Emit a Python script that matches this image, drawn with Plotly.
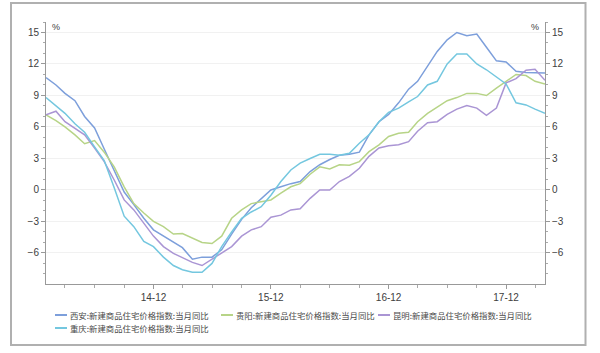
import pandas as pd
import plotly.graph_objects as go

# ---- data ----
months = pd.date_range("2014-01-01", periods=52, freq="MS")

names = [
    "西安:新建商品住宅价格指数:当月同比",
    "贵阳:新建商品住宅价格指数:当月同比",
    "昆明:新建商品住宅价格指数:当月同比",
    "重庆:新建商品住宅价格指数:当月同比",
]

xian = [10.7, 10.0, 9.2, 8.5, 7.0, 5.9, 3.9, 1.8, -0.2, -1.4, -2.7, -3.8,
        -4.4, -5.0, -5.5, -6.6, -6.4, -6.4, -5.7, -4.2, -2.8, -1.7, -0.8, 0.0,
        0.3, 0.6, 0.8, 1.75, 2.4, 2.9, 3.3, 3.4, 3.6, 5.25, 6.5, 7.2,
        8.3, 9.6, 10.35, 11.8, 13.2, 14.3, 15.0, 14.7, 14.85, 13.6, 12.3, 12.2,
        11.3, 11.2, 11.2, 11.15]

guiyang = [7.15, 6.6, 6.0, 5.25, 4.4, 4.7, 3.6, 2.2, 0.3, -1.3, -2.2, -3.0,
           -3.5, -4.2, -4.15, -4.6, -5.0, -5.1, -4.4, -2.7, -1.9, -1.3, -1.1, -0.95,
           -0.3, 0.3, 0.6, 1.5, 2.2, 2.0, 2.4, 2.35, 2.7, 3.65, 4.3, 5.1,
           5.4, 5.5, 6.5, 7.3, 7.9, 8.5, 8.8, 9.2, 9.2, 9.0, 9.7, 10.35,
           11.0, 10.9, 10.35, 10.1]

kunming = [7.15, 7.5, 6.5, 5.9, 5.25, 4.0, 2.7, 0.95, -0.95, -1.9, -3.2, -4.4,
           -5.4, -6.05, -6.45, -6.9, -7.2, -6.6, -5.95, -5.4, -4.4, -3.8, -3.5, -2.6,
           -2.4, -1.9, -1.8, -0.8, 0.0, 0.0, 0.8, 1.3, 2.07, 3.2, 4.0, 4.2,
           4.3, 4.6, 5.6, 6.4, 6.5, 7.2, 7.7, 8.05, 7.8, 7.1, 7.8, 10.2,
           10.6, 11.4, 11.5, 10.45]

chongqing = [8.8, 8.0, 7.3, 6.3, 5.5, 4.1, 2.8, 0.2, -2.5, -3.5, -4.9, -5.4,
             -6.4, -7.2, -7.6, -7.85, -7.85, -7.0, -5.4, -4.0, -2.7, -2.1, -1.6, -0.5,
             0.8, 1.9, 2.55, 3.0, 3.4, 3.4, 3.3, 3.5, 4.45, 5.25, 6.5, 7.4,
             7.8, 8.4, 8.9, 10.0, 10.35, 12.0, 12.95, 12.95, 12.0, 11.45, 10.75, 10.1,
             8.3, 8.1, 7.7, 7.3]

series = [xian, guiyang, kunming, chongqing]
colors = ["#7d9fdb", "#b7d487", "#aa95d4", "#74c7df"]

ytick_vals = [-6, -3, 0, 3, 6, 9, 12, 15]

# ---- figure ----
fig = go.Figure()
for name, vals, col in zip(names, series, colors):
    fig.add_trace(go.Scatter(x=months, y=vals, mode="lines", name=name,
                             line=dict(color=col, width=1.5), showlegend=False))

W, H = 600, 353
ml, mr, mt, mb = 46, 55, 22, 69
pw, ph = W - ml - mr, H - mt - mb

def px(x):
    return (x - ml) / pw

def py(y):
    return (H - mb - y) / ph

tickfont = dict(family="Liberation Sans, Arial, sans-serif", size=10, color="#404040")
yrange = [-8.96, 16.0]

yaxis_common = dict(
    range=yrange, tickvals=ytick_vals, ticks="outside", ticklen=4, tickcolor="#999",
    showline=True, linecolor="#999", linewidth=1, zeroline=False, tickfont=tickfont,
    minor=dict(dtick=1, tick0=0, ticks="outside", ticklen=2, tickcolor="#aaa", showgrid=False),
)

fig.update_layout(
    width=W, height=H,
    margin=dict(l=ml, r=mr, t=mt, b=mb),
    paper_bgcolor="white", plot_bgcolor="white",
    xaxis=dict(
        type="date", range=[months[0], months[-1]],
        dtick="M12", tick0="2014-12-01", tickformat="%y-%m",
        ticks="outside", ticklen=4, tickcolor="#999",
        showline=True, linecolor="#999", linewidth=1, showgrid=False, zeroline=False,
        tickfont=dict(family="Liberation Sans, Arial, sans-serif", size=10, color="#404040"),
        minor=dict(dtick="M3", tick0="2014-03-01", ticks="outside", ticklen=3, tickcolor="#aaa", showgrid=False),
    ),
    yaxis=dict(showgrid=True, gridcolor="#f1f1f1", gridwidth=1, side="left", **yaxis_common),
    yaxis2=dict(overlaying="y", side="right", showgrid=False, **yaxis_common),
    showlegend=False,
)

# invisible trace to anchor the right axis
fig.add_trace(go.Scatter(x=[months[0]], y=[None], yaxis="y2", showlegend=False, hoverinfo="skip"))

# % unit labels
fig.add_annotation(x=px(50), y=py(20), xref="paper", yref="paper", text="%", showarrow=False,
                   font=dict(family="Liberation Sans, Arial", size=9, color="#404040"))
fig.add_annotation(x=px(541), y=py(20), xref="paper", yref="paper", text="%", showarrow=False,
                   font=dict(family="Liberation Sans, Arial", size=9, color="#404040"))

# outer frame
fig.add_shape(type="rect", xref="paper", yref="paper",
              x0=px(11), x1=px(585.5), y0=py(345), y1=py(3),
              line=dict(color="#b0b0b0", width=2), fillcolor="rgba(0,0,0,0)", layer="below")

# legend (manual, two rows)
leg_x = [55, 221, 378, 55]
leg_y = [315, 315, 315, 328]
for name, col, lx, ly in zip(names, colors, leg_x, leg_y):
    fig.add_shape(type="line", xref="paper", yref="paper",
                  x0=px(lx), x1=px(lx + 12), y0=py(ly), y1=py(ly),
                  line=dict(color=col, width=2))
    fig.add_annotation(x=px(lx + 13), y=py(ly), xref="paper", yref="paper", text=name,
                       showarrow=False, xanchor="left", yanchor="middle",
                       font=dict(family="Noto Sans CJK SC", size=8.4, color="#4a4a4a"))

fig.write_html("out.html")
